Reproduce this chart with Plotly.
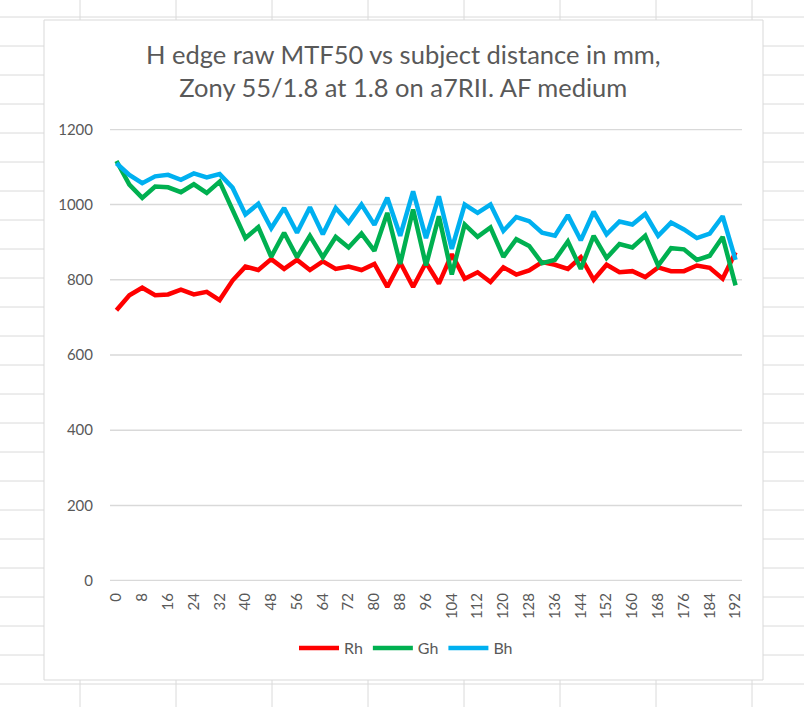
import plotly.graph_objects as go

# ---- data ----
distance = list(range(0, 193, 4))
Rh = [719, 759, 779, 759, 761, 774, 761, 768, 746, 798, 835, 826, 855, 829, 853, 826, 849,
      829, 835, 826, 842, 781, 846, 781, 846, 790, 868, 803, 820, 794, 833, 814, 825, 847,
      840, 829, 860, 800, 840, 820, 823, 807, 833, 823, 823, 838, 832, 803, 873]
Gh = [1116, 1053, 1018, 1048, 1046, 1033, 1054, 1031, 1061, 985, 911, 940, 861, 925, 860,
      917, 860, 914, 886, 923, 877, 978, 842, 987, 838, 969, 814, 947, 914, 939, 861, 908,
      890, 844, 853, 902, 829, 917, 858, 895, 886, 917, 838, 884, 881, 853, 864, 914, 785]
Bh = [1110, 1079, 1057, 1075, 1079, 1066, 1083, 1072, 1081, 1045, 974, 1002, 937, 991, 925,
      993, 921, 991, 952, 1000, 946, 1018, 917, 1035, 911, 1022, 882, 1000, 978, 1000, 930,
      967, 956, 925, 917, 972, 905, 981, 921, 955, 947, 975, 917, 952, 934, 911, 923, 969, 853]
series_names = ["Rh", "Gh", "Bh"]
series_colors = ["#FF0000", "#00B050", "#00B0F0"]
x_tick_labels = list(range(0, 193, 8))
y_tick_labels = list(range(0, 1201, 200))
title_text = "H edge raw MTF50 vs subject distance in mm,<br>Zony 55/1.8 at 1.8 on a7RII. AF medium"

W, H = 804, 707
L, R, T, B = 110, 62, 129, 126
PW, PH = W - L - R, H - T - B
FONT = "Lato"
TXT = "#595959"
GRID = "#d9d9d9"


def px(xp):
    return (xp - L) / PW


def py(yp):
    return (H - B - yp) / PH


fig = go.Figure()
for name, vals, col in zip(series_names, [Rh, Gh, Bh], series_colors):
    fig.add_trace(go.Scatter(x=distance, y=vals, name=name, mode="lines",
                             line=dict(color=col, width=4.5)))

shapes = []
sheet_col = "#dadada"
# spreadsheet column lines
for xc in [80, 176, 272, 368, 464, 560, 656, 752]:
    shapes.append(dict(type="line", xref="paper", yref="paper", x0=px(xc), x1=px(xc),
                       y0=py(0), y1=py(H), line=dict(color=sheet_col, width=1), layer="below"))
# spreadsheet row lines
for k in range(25):
    yr = 17 + 29 * k
    shapes.append(dict(type="line", xref="paper", yref="paper", x0=px(0), x1=px(W),
                       y0=py(yr), y1=py(yr), line=dict(color=sheet_col, width=1), layer="below"))
# chart area
shapes.append(dict(type="rect", xref="paper", yref="paper", x0=px(44), x1=px(763),
                   y0=py(680), y1=py(20), fillcolor="white",
                   line=dict(color=GRID, width=1), layer="below"))
# value gridlines (drawn explicitly so the outer ones are kept)
for v in y_tick_labels:
    shapes.append(dict(type="line", xref="paper", yref="y", x0=0, x1=1, y0=v, y1=v,
                       line=dict(color=GRID, width=1.5), layer="below"))

fig.update_layout(
    width=W, height=H,
    margin=dict(l=L, r=R, t=T, b=B),
    paper_bgcolor="white", plot_bgcolor="rgba(0,0,0,0)",
    font=dict(family=FONT, color=TXT),
    shapes=shapes,
    showlegend=True,
    legend=dict(orientation="h", x=px(406), xanchor="center", y=py(648), yanchor="middle",
                font=dict(size=16, color=TXT), bgcolor="rgba(0,0,0,0)",
                itemwidth=40, tracegroupgap=0),
    annotations=[dict(text=title_text, xref="paper", yref="paper", x=px(403.5), y=py(71),
                      xanchor="center", yanchor="middle", showarrow=False,
                      font=dict(size=25.5, color=TXT, family=FONT))],
)
fig.update_xaxes(range=[-2, 194], tickmode="array", tickvals=x_tick_labels,
                 ticktext=[str(v) for v in x_tick_labels], tickangle=-90,
                 tickfont=dict(size=15, color=TXT), showgrid=False, zeroline=False,
                 showline=False, ticks="", ticklabelstandoff=8)
fig.update_yaxes(range=[-1, 1201], tickmode="array", tickvals=y_tick_labels,
                 tickfont=dict(size=15, color=TXT), showgrid=False,
                 zeroline=False, showline=False, ticks="", ticklabelstandoff=16)

fig.write_html("out.html", config={"displayModeBar": False},
               post_script="document.body.style.margin='0';")
